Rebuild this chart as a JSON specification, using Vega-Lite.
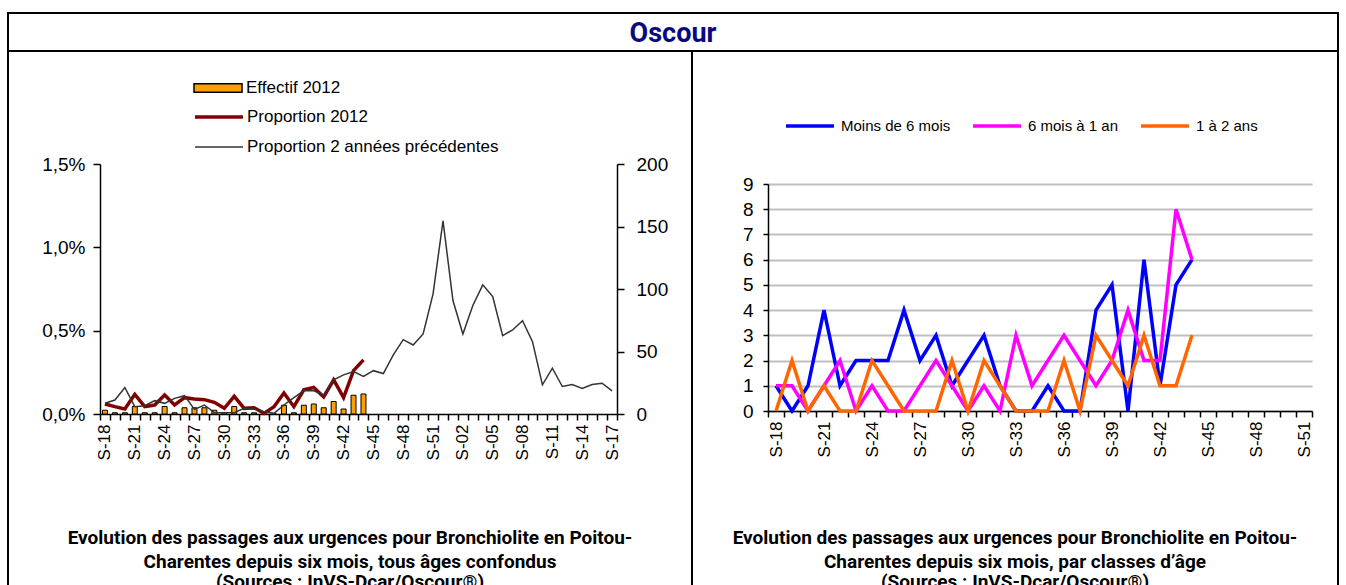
{
  "$schema": "https://vega.github.io/schema/vega-lite/v6.json",
  "padding": {"left": -2, "top": 12, "right": 0, "bottom": 0},
  "background": "white",
  "spacing": 0,
  "bounds": "flush",
  "config": {
    "view": {"stroke": "black", "strokeWidth": 2},
    "font": "Liberation Sans",
    "axis": {"labelFont": "Liberation Sans", "labelColor": "black", "domainColor": "black", "tickColor": "black", "domainWidth": 1.5, "tickWidth": 1.5, "title": null, "grid": false},
    "legend": {"labelFont": "Liberation Sans", "labelColor": "black"},
    "title": {"color": "black"}
  },
  "datasets": {
    "gauche": [
      {"semaine": "S-18", "effectif": 3, "p2012": 0.06, "pprec": 0.064},
      {"semaine": "S-19", "effectif": 1, "p2012": 0.044, "pprec": 0.084},
      {"semaine": "S-20", "effectif": 1, "p2012": 0.03, "pprec": 0.159},
      {"semaine": "S-21", "effectif": 6, "p2012": 0.118, "pprec": 0.044},
      {"semaine": "S-22", "effectif": 1, "p2012": 0.044, "pprec": 0.05},
      {"semaine": "S-23", "effectif": 1, "p2012": 0.054, "pprec": 0.08},
      {"semaine": "S-24", "effectif": 6, "p2012": 0.114, "pprec": 0.064},
      {"semaine": "S-25", "effectif": 1, "p2012": 0.054, "pprec": 0.094},
      {"semaine": "S-26", "effectif": 5, "p2012": 0.098, "pprec": 0.11},
      {"semaine": "S-27", "effectif": 5, "p2012": 0.09, "pprec": 0.028},
      {"semaine": "S-28", "effectif": 5, "p2012": 0.086, "pprec": 0.054},
      {"semaine": "S-29", "effectif": 3, "p2012": 0.07, "pprec": 0.008},
      {"semaine": "S-30", "effectif": 1, "p2012": 0.034, "pprec": 0.008},
      {"semaine": "S-31", "effectif": 6, "p2012": 0.106, "pprec": 0.008},
      {"semaine": "S-32", "effectif": 1, "p2012": 0.034, "pprec": 0.034},
      {"semaine": "S-33", "effectif": 1, "p2012": 0.038, "pprec": 0.03},
      {"semaine": "S-34", "effectif": 0, "p2012": 0.004, "pprec": 0.014},
      {"semaine": "S-35", "effectif": 0, "p2012": 0.044, "pprec": 0.004},
      {"semaine": "S-36", "effectif": 7, "p2012": 0.126, "pprec": 0.054},
      {"semaine": "S-37", "effectif": 1, "p2012": 0.044, "pprec": 0.098},
      {"semaine": "S-38", "effectif": 7, "p2012": 0.145, "pprec": 0.139},
      {"semaine": "S-39", "effectif": 8, "p2012": 0.159, "pprec": 0.139},
      {"semaine": "S-40", "effectif": 5, "p2012": 0.102, "pprec": 0.114},
      {"semaine": "S-41", "effectif": 10, "p2012": 0.205, "pprec": 0.205},
      {"semaine": "S-42", "effectif": 4, "p2012": 0.098, "pprec": 0.235},
      {"semaine": "S-43", "effectif": 15, "p2012": 0.26, "pprec": 0.255},
      {"semaine": "S-44", "effectif": 16, "p2012": 0.325, "pprec": 0.225},
      {"semaine": "S-45", "pprec": 0.26},
      {"semaine": "S-46", "pprec": 0.243},
      {"semaine": "S-47", "pprec": 0.355},
      {"semaine": "S-48", "pprec": 0.446},
      {"semaine": "S-49", "pprec": 0.414},
      {"semaine": "S-50", "pprec": 0.48},
      {"semaine": "S-51", "pprec": 0.721},
      {"semaine": "S-52", "pprec": 1.159},
      {"semaine": "S-01", "pprec": 0.681},
      {"semaine": "S-02", "pprec": 0.48},
      {"semaine": "S-03", "pprec": 0.651},
      {"semaine": "S-04", "pprec": 0.775},
      {"semaine": "S-05", "pprec": 0.705},
      {"semaine": "S-06", "pprec": 0.47},
      {"semaine": "S-07", "pprec": 0.504},
      {"semaine": "S-08", "pprec": 0.56},
      {"semaine": "S-09", "pprec": 0.434},
      {"semaine": "S-10", "pprec": 0.175},
      {"semaine": "S-11", "pprec": 0.275},
      {"semaine": "S-12", "pprec": 0.165},
      {"semaine": "S-13", "pprec": 0.177},
      {"semaine": "S-14", "pprec": 0.153},
      {"semaine": "S-15", "pprec": 0.177},
      {"semaine": "S-16", "pprec": 0.185},
      {"semaine": "S-17", "pprec": 0.139}
    ],
    "droite": [
      {"semaine": "S-18", "m6": 1, "m12": 1, "a2": 0},
      {"semaine": "S-19", "m6": 0, "m12": 1, "a2": 2},
      {"semaine": "S-20", "m6": 1, "m12": 0, "a2": 0},
      {"semaine": "S-21", "m6": 4, "m12": 1, "a2": 1},
      {"semaine": "S-22", "m6": 1, "m12": 2, "a2": 0},
      {"semaine": "S-23", "m6": 2, "m12": 0, "a2": 0},
      {"semaine": "S-24", "m6": 2, "m12": 1, "a2": 2},
      {"semaine": "S-25", "m6": 2, "m12": 0, "a2": 1},
      {"semaine": "S-26", "m6": 4, "m12": 0, "a2": 0},
      {"semaine": "S-27", "m6": 2, "m12": 1, "a2": 0},
      {"semaine": "S-28", "m6": 3, "m12": 2, "a2": 0},
      {"semaine": "S-29", "m6": 1, "m12": 1, "a2": 2},
      {"semaine": "S-30", "m6": 2, "m12": 0, "a2": 0},
      {"semaine": "S-31", "m6": 3, "m12": 1, "a2": 2},
      {"semaine": "S-32", "m6": 1, "m12": 0, "a2": 1},
      {"semaine": "S-33", "m6": 0, "m12": 3, "a2": 0},
      {"semaine": "S-34", "m6": 0, "m12": 1, "a2": 0},
      {"semaine": "S-35", "m6": 1, "m12": 2, "a2": 0},
      {"semaine": "S-36", "m6": 0, "m12": 3, "a2": 2},
      {"semaine": "S-37", "m6": 0, "m12": 2, "a2": 0},
      {"semaine": "S-38", "m6": 4, "m12": 1, "a2": 3},
      {"semaine": "S-39", "m6": 5, "m12": 2, "a2": 2},
      {"semaine": "S-40", "m6": 0, "m12": 4, "a2": 1},
      {"semaine": "S-41", "m6": 6, "m12": 2, "a2": 3},
      {"semaine": "S-42", "m6": 1, "m12": 2, "a2": 1},
      {"semaine": "S-43", "m6": 5, "m12": 8, "a2": 1},
      {"semaine": "S-44", "m6": 6, "m12": 6, "a2": 3}
    ]
  },
  "vconcat": [
    {
      "width": 1330,
      "height": 38,
      "view": {"stroke": "black", "strokeWidth": 2},
      "data": {"values": [{"titre": "Oscour"}]},
      "mark": {"type": "text", "font": "Roboto", "fontSize": 27, "fontWeight": "bold", "color": "#0A0A80", "dy": 2},
      "encoding": {
        "text": {"field": "titre", "type": "nominal"},
        "x": {"datum": 0.5, "type": "quantitative", "scale": {"domain": [0, 1]}, "axis": null},
        "y": {"datum": 0.5, "type": "quantitative", "scale": {"domain": [0, 1]}, "axis": null}
      }
    },
    {
      "spacing": 0,
      "bounds": "flush",
      "resolve": {"scale": {"color": "independent"}, "legend": {"color": "independent"}},
      "hconcat": [
        {
          "width": 684,
          "height": 540,
          "title": {
            "text": ["Evolution des passages aux urgences pour Bronchiolite en Poitou-", "Charentes depuis six mois, tous âges confondus"],
            "subtitle": "(Sources : InVS-Dcar/Oscour®)",
            "orient": "bottom",
            "anchor": "middle",
            "offset": -62,
            "font": "Roboto",
            "fontSize": 19,
            "fontWeight": "bold",
            "lineHeight": 23.5,
            "subtitleFont": "Roboto",
            "subtitleFontSize": 19,
            "subtitleFontWeight": "bold",
            "subtitleColor": "black",
            "subtitlePadding": 1
          },
          "data": {"name": "gauche"},
          "resolve": {"scale": {"y": "independent"}},
          "encoding": {
            "x": {
              "field": "semaine", "type": "nominal",
              "scale": {"type": "band", "domain": ["S-18","S-19","S-20","S-21","S-22","S-23","S-24","S-25","S-26","S-27","S-28","S-29","S-30","S-31","S-32","S-33","S-34","S-35","S-36","S-37","S-38","S-39","S-40","S-41","S-42","S-43","S-44","S-45","S-46","S-47","S-48","S-49","S-50","S-51","S-52","S-01","S-02","S-03","S-04","S-05","S-06","S-07","S-08","S-09","S-10","S-11","S-12","S-13","S-14","S-15","S-16","S-17"], "range": [92, 609], "paddingInner": 0, "paddingOuter": 0},
              "axis": {
                "orient": "bottom", "offset": -177, "labelAngle": -90, "labelAlign": "right", "labelBaseline": "middle",
                "tickBand": "extent", "tickSize": 6, "labelPadding": 4, "labelFontSize": 17, "labelOverlap": false,
                "labelExpr": "indexof(['S-18','S-21','S-24','S-27','S-30','S-33','S-36','S-39','S-42','S-45','S-48','S-51','S-02','S-05','S-08','S-11','S-14','S-17'], datum.value) >= 0 ? datum.value : ''"
              }
            }
          },
          "layer": [
            {
              "mark": {"type": "bar", "stroke": "black", "strokeWidth": 1, "width": {"band": 0.5}},
              "encoding": {
                "y": {
                  "field": "effectif", "type": "quantitative",
                  "scale": {"domain": [0, 200], "range": [363, 113], "nice": false},
                  "axis": {"orient": "right", "offset": -75, "values": [0, 50, 100, 150, 200], "tickSize": 7, "labelPadding": 12, "labelFontSize": 19}
                },
                "fill": {
                  "datum": "Effectif 2012",
                  "scale": {"domain": ["Effectif 2012"], "range": ["#FFA000"]},
                  "legend": {
                    "orient": "none", "legendX": 197, "legendY": 62, "title": null,
                    "labelFontSize": 17, "labelOffset": 15, "labelLimit": 400, "symbolSize": 576,
                    "symbolType": "M-2,-0.36H2V0.36H-2Z", "symbolStrokeColor": "black", "symbolStrokeWidth": 1.5, "symbolOpacity": 1
                  }
                }
              }
            },
            {
              "transform": [{"fold": ["p2012", "pprec"], "as": ["serie", "valeur"]}],
              "mark": {"type": "line"},
              "encoding": {
                "y": {
                  "field": "valeur", "type": "quantitative",
                  "scale": {"domain": [0, 1.5], "range": [363, 113], "nice": false},
                  "axis": {"orient": "left", "offset": -92, "values": [0, 0.5, 1, 1.5], "tickSize": 7, "labelPadding": 8, "labelFontSize": 19,
                    "labelExpr": "replace(format(datum.value, '.1f'), '.', ',') + '%'"}
                },
                "stroke": {
                  "field": "serie", "type": "nominal",
                  "scale": {"domain": ["p2012", "pprec"], "range": ["#800000", "#333333"]},
                  "legend": {
                    "orient": "none", "legendX": 197, "legendY": 90, "title": null,
                    "labelFontSize": 17, "labelOffset": 14, "labelLimit": 400, "symbolSize": 576, "rowPadding": 9,
                    "symbolType": "M-2,0H2",
                    "labelExpr": "datum.label === 'p2012' ? 'Proportion 2012' : 'Proportion 2 années précédentes'"
                  }
                },
                "strokeWidth": {
                  "field": "serie", "type": "nominal",
                  "scale": {"domain": ["p2012", "pprec"], "range": [3.5, 1.5]},
                  "legend": {
                    "orient": "none", "legendX": 197, "legendY": 90, "title": null,
                    "labelFontSize": 17, "labelOffset": 14, "labelLimit": 400, "symbolSize": 576, "rowPadding": 9,
                    "symbolType": "M-2,0H2",
                    "labelExpr": "datum.label === 'p2012' ? 'Proportion 2012' : 'Proportion 2 années précédentes'"
                  }
                }
              }
            }
          ]
        },
        {
          "width": 646,
          "height": 540,
          "title": {
            "text": ["Evolution des passages aux urgences pour Bronchiolite en Poitou-", "Charentes depuis six mois, par classes d’âge"],
            "subtitle": "(Sources : InVS-Dcar/Oscour®)",
            "orient": "bottom",
            "anchor": "middle",
            "offset": -62,
            "font": "Roboto",
            "fontSize": 19,
            "fontWeight": "bold",
            "lineHeight": 23.5,
            "subtitleFont": "Roboto",
            "subtitleFontSize": 19,
            "subtitleFontWeight": "bold",
            "subtitleColor": "black",
            "subtitlePadding": 1
          },
          "data": {"name": "droite"},
          "encoding": {
            "x": {
              "field": "semaine", "type": "nominal",
              "scale": {"type": "band", "domain": ["S-18","S-19","S-20","S-21","S-22","S-23","S-24","S-25","S-26","S-27","S-28","S-29","S-30","S-31","S-32","S-33","S-34","S-35","S-36","S-37","S-38","S-39","S-40","S-41","S-42","S-43","S-44","S-45","S-46","S-47","S-48","S-49","S-50","S-51"], "range": [76, 620], "paddingInner": 0, "paddingOuter": 0},
              "axis": {
                "orient": "bottom", "offset": -180, "labelAngle": -90, "labelAlign": "right", "labelBaseline": "middle",
                "tickBand": "extent", "tickSize": 6, "labelPadding": 4, "labelFontSize": 17, "labelOverlap": false,
                "labelExpr": "indexof(['S-18','S-21','S-24','S-27','S-30','S-33','S-36','S-39','S-42','S-45','S-48','S-51'], datum.value) >= 0 ? datum.value : ''"
              }
            }
          },
          "layer": [
            {
              "mark": {"type": "line", "strokeWidth": 3.5},
              "encoding": {
                "y": {
                  "field": "m6", "type": "quantitative",
                  "scale": {"domain": [0, 9], "range": [360, 133], "nice": false},
                  "axis": {"orient": "left", "offset": -76, "values": [0,1,2,3,4,5,6,7,8,9], "format": "d", "grid": true, "gridColor": "#BFBFBF", "gridWidth": 2, "tickSize": 5, "labelPadding": 10, "labelFontSize": 19}
                },
                "color": {
                  "datum": "Moins de 6 mois",
                  "scale": {"domain": ["Moins de 6 mois", "6 mois à 1 an", "1 à 2 ans"], "range": ["#0000FF", "#FF00FF", "#FF6600"]},
                  "legend": {
                    "orient": "none", "legendX": 104, "legendY": 61, "title": null, "direction": "horizontal",
                    "symbolType": "M-2,0H2", "symbolSize": 576, "symbolStrokeWidth": 3.5,
                    "labelFontSize": 15, "labelOffset": 17, "columnPadding": 15, "labelLimit": 300
                  }
                }
              }
            },
            {
              "mark": {"type": "line", "strokeWidth": 3.5},
              "encoding": {
                "y": {"field": "m12", "type": "quantitative"},
                "color": {"datum": "6 mois à 1 an"}
              }
            },
            {
              "mark": {"type": "line", "strokeWidth": 3.5},
              "encoding": {
                "y": {"field": "a2", "type": "quantitative"},
                "color": {"datum": "1 à 2 ans"}
              }
            }
          ]
        }
      ]
    }
  ]
}
